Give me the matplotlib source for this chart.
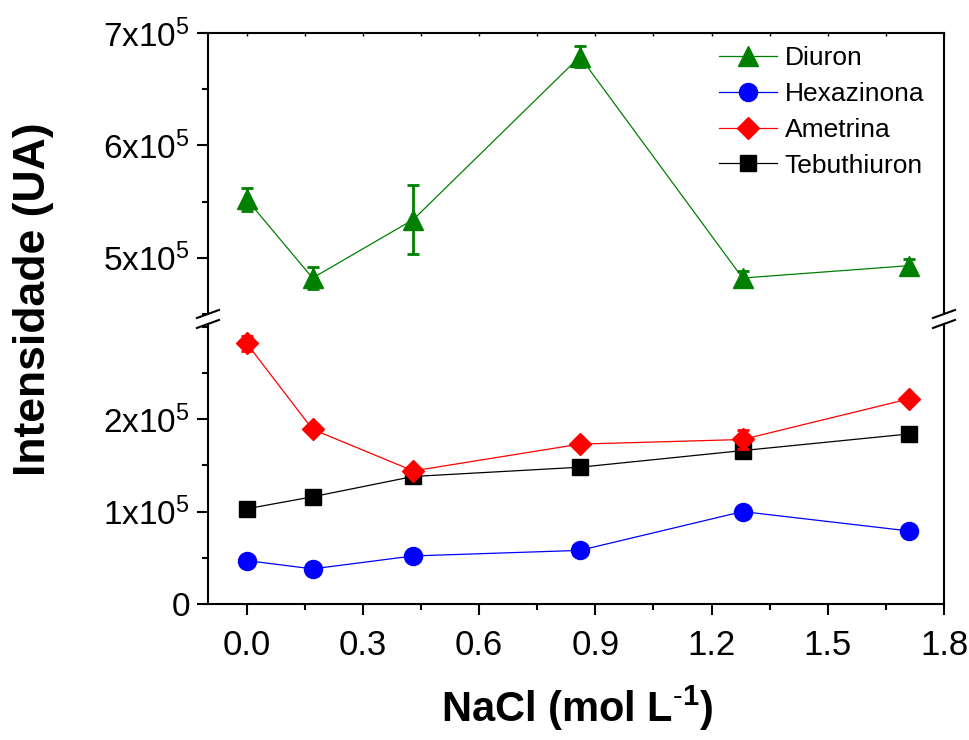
import matplotlib
matplotlib.use('Agg')
import matplotlib.pyplot as plt
from matplotlib.lines import Line2D
from matplotlib.ticker import MultipleLocator

plt.rcParams['font.family'] = ['Liberation Sans', 'DejaVu Sans']
plt.rcParams['mathtext.fontset'] = 'custom'
plt.rcParams['mathtext.rm'] = 'Liberation Sans'
plt.rcParams['mathtext.bf'] = 'Liberation Sans:bold'
plt.rcParams['mathtext.default'] = 'regular'

# data
nacl = [0.0, 0.17, 0.43, 0.86, 1.28, 1.71]
diuron = [5.52e5, 4.82e5, 5.34e5, 6.79e5, 4.82e5, 4.93e5]
diuron_err = [0.10e5, 0.10e5, 0.31e5, 0.09e5, 0.06e5, 0.06e5]
hexazinona = [0.47e5, 0.38e5, 0.52e5, 0.58e5, 1.00e5, 0.79e5]
hexazinona_err = [0.02e5, 0.02e5, 0.02e5, 0.02e5, 0.02e5, 0.02e5]
ametrina = [2.82e5, 1.89e5, 1.44e5, 1.73e5, 1.78e5, 2.22e5]
ametrina_err = [0.08e5, 0.02e5, 0.04e5, 0.02e5, 0.10e5, 0.02e5]
tebuthiuron = [1.03e5, 1.16e5, 1.38e5, 1.48e5, 1.66e5, 1.84e5]
tebuthiuron_err = [0.02e5, 0.02e5, 0.06e5, 0.02e5, 0.03e5, 0.02e5]

x_ticks = [0.0, 0.3, 0.6, 0.9, 1.2, 1.5, 1.8]
x_ticklabels = ['0.0', '0.3', '0.6', '0.9', '1.2', '1.5', '1.8']
top_yticks = [5e5, 6e5, 7e5]
top_yticklabels = ['5x10$^{5}$', '6x10$^{5}$', '7x10$^{5}$']
bot_yticks = [0, 1e5, 2e5]
bot_yticklabels = ['0', '1x10$^{5}$', '2x10$^{5}$']

fig = plt.figure(figsize=(9.7, 7.4), dpi=100)
ax_top = fig.add_axes([0.2144, 0.5757, 0.7588, 0.3797])
ax_bot = fig.add_axes([0.2144, 0.1838, 0.7588, 0.3784])

lw = 0.9
# upper panel: Diuron
ax_top.errorbar(nacl, diuron, yerr=diuron_err, fmt='none', ecolor='green',
                elinewidth=2, capsize=4, capthick=2)
h1, = ax_top.plot(nacl, diuron, color='green', lw=lw, marker='^', ms=14,
                  label='Diuron')

# lower panel
ax_bot.errorbar(nacl, tebuthiuron, yerr=tebuthiuron_err, fmt='none', ecolor='black',
                elinewidth=2, capsize=4, capthick=2)
h4, = ax_bot.plot(nacl, tebuthiuron, color='black', lw=lw, marker='s', ms=11,
                  label='Tebuthiuron')
ax_bot.errorbar(nacl, hexazinona, yerr=hexazinona_err, fmt='none', ecolor='blue',
                elinewidth=2, capsize=4, capthick=2)
h2, = ax_bot.plot(nacl, hexazinona, color='blue', lw=lw, marker='o', ms=13,
                  label='Hexazinona')
ax_bot.errorbar(nacl, ametrina, yerr=ametrina_err, fmt='none', ecolor='red',
                elinewidth=2, capsize=4, capthick=2)
h3, = ax_bot.plot(nacl, ametrina, color='red', lw=lw, marker='D', ms=11.5,
                  label='Ametrina')

for ax in (ax_top, ax_bot):
    ax.set_xlim(-0.1, 1.8)
    for s in ax.spines.values():
        s.set_linewidth(1.5)
    ax.xaxis.set_major_locator(MultipleLocator(0.3))
    ax.xaxis.set_minor_locator(MultipleLocator(0.15))
    ax.yaxis.set_minor_locator(MultipleLocator(0.5e5))
    ax.tick_params(axis='y', which='major', direction='out', length=8, width=1.5,
                   labelsize=24, pad=5, right=False)
    ax.tick_params(axis='y', which='minor', direction='out', length=4.5, width=1.5,
                   right=False)

ax_top.set_ylim(4.5e5, 7e5)
ax_top.set_yticks(top_yticks)
ax_top.set_yticklabels(top_yticklabels)
ax_top.spines['bottom'].set_visible(False)
ax_top.tick_params(axis='x', which='both', bottom=False, labelbottom=False,
                   top=True, direction='in', length=2.5, width=1)

ax_bot.set_ylim(0, 3.03e5)
ax_bot.set_yticks(bot_yticks)
ax_bot.set_yticklabels(bot_yticklabels)
ax_bot.spines['top'].set_visible(False)
ax_bot.set_xticks(x_ticks)
ax_bot.set_xticklabels(x_ticklabels)
ax_bot.tick_params(axis='x', which='major', direction='out', length=8, width=1.5,
                   labelsize=25, pad=10, top=False)
ax_bot.tick_params(axis='x', which='minor', direction='out', length=4.5, width=1.5,
                   top=False)

# break marks on both spines
pt = ax_top.get_position()
pb = ax_bot.get_position()
dx, dy = 11 / 970, 4 / 740
for xe in (pt.x0, pt.x1):
    for ye in (pt.y0, pb.y1):
        fig.add_artist(Line2D([xe - dx, xe + dx], [ye - dy, ye + dy],
                              transform=fig.transFigure, color='black', lw=1.5))

ax_top.legend(handles=[h1, h2, h3, h4], loc='upper right', frameon=False,
              fontsize=19, handlelength=2.2, handletextpad=0.3, labelspacing=0.45,
              borderaxespad=0.2, bbox_to_anchor=(0.995, 1.01))

fig.text(0.035, 0.596, 'Intensidade (UA)', rotation=90, ha='center', va='center',
         fontsize=32, fontweight='bold')
fig.text(0.595, 0.043, 'NaCl (mol L$^{\\text{-}1}$)', ha='center', va='center',
         fontsize=30, fontweight='bold')

fig.savefig('out.png', dpi=100)
